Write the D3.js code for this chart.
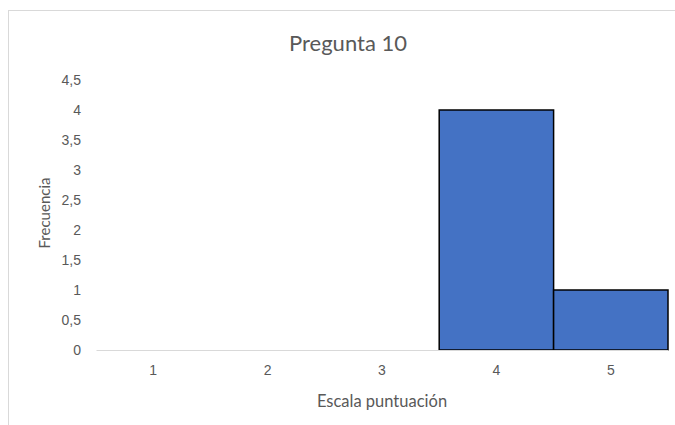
<!DOCTYPE html>
<html>
<head>
<meta charset="utf-8">
<script src="https://cdn.jsdelivr.net/npm/d3@7"></script>
<style>
body { margin: 0; background: #fff; }
svg { font-family: Lato, "Open Sans", sans-serif; }
.tick text { fill: #595959; font-size: 14px; }
</style>
</head>
<body>
<div class="container"></div>
<script>
var categories = ['1', '2', '3', '4', '5'];
var frequencies = [0, 0, 0, 4, 1];
var yTicks = [0, 0.5, 1, 1.5, 2, 2.5, 3, 3.5, 4, 4.5];

const WIDTH = 675;
const HEIGHT = 425;
const LEFT = 96, RIGHT = 668, TOP = 80, BOTTOM = 350;

var svg = d3.select('.container').append('svg')
	.attr('width', WIDTH)
	.attr('height', HEIGHT);

// chart frame, cut off at right and bottom like the screenshot
svg.append('rect')
	.attr('x', 8.5).attr('y', 10.5)
	.attr('width', 720).attr('height', 460)
	.attr('fill', 'none')
	.attr('stroke', '#d9d9d9');

var xScale = d3.scaleBand()
	.domain(categories)
	.range([LEFT, RIGHT])
	.padding(0);

var yScale = d3.scaleLinear()
	.domain([0, 4.5])
	.range([BOTTOM, TOP]);

var fmt = function(v){ return String(v).replace('.', ','); };

var yAxis = d3.axisLeft(yScale).tickValues(yTicks).tickFormat(fmt).tickSize(0).tickPadding(15);
svg.append('g')
	.attr('transform', 'translate(' + LEFT + ',0)')
	.call(yAxis)
	.call(function(g){ g.select('.domain').remove(); });

svg.append('g')
	.selectAll('rect').data(frequencies)
	.enter().append('rect')
	.attr('x', function(d, i){ return xScale(categories[i]); })
	.attr('y', function(d){ return yScale(d); })
	.attr('width', xScale.bandwidth())
	.attr('height', function(d){ return BOTTOM - yScale(d); })
	.attr('fill', function(d){ return d > 0 ? '#4472c4' : 'none'; })
	.attr('stroke', function(d){ return d > 0 ? '#000' : 'none'; })
	.attr('stroke-width', 1.5);

var xAxis = d3.axisBottom(xScale).tickSize(0).tickPadding(15);
svg.append('g')
	.attr('transform', 'translate(0,' + BOTTOM + ')')
	.call(xAxis)
	.call(function(g){ g.select('.domain').attr('stroke', '#d9d9d9'); });

svg.append('text')
	.attr('x', 348).attr('y', 51)
	.attr('text-anchor', 'middle')
	.attr('font-size', 22)
	.attr('fill', '#595959')
	.text('Pregunta 10');

svg.append('text')
	.attr('transform', 'translate(50,213) rotate(-90)')
	.attr('text-anchor', 'middle')
	.attr('font-size', 15)
	.attr('fill', '#595959')
	.text('Frecuencia');

svg.append('text')
	.attr('x', 382).attr('y', 407)
	.attr('text-anchor', 'middle')
	.attr('font-size', 16.5)
	.attr('fill', '#595959')
	.text('Escala puntuación');
</script>
</body>
</html>
